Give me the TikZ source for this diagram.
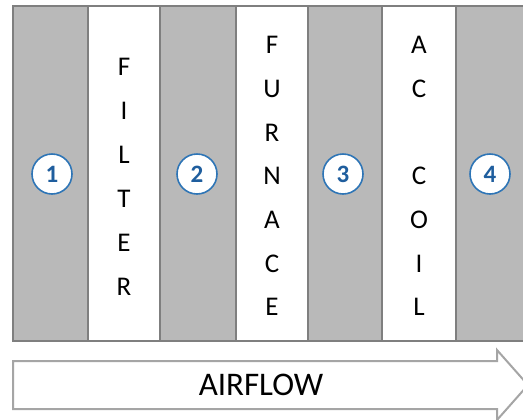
\documentclass[tikz,border=0pt]{standalone}
\usepackage{fontspec}
\setmainfont{Carlito}
\definecolor{bandgray}{HTML}{B9B9B9}
\definecolor{edgegray}{HTML}{7F7F7F}
\definecolor{arrowgray}{HTML}{A5A5A5}
\definecolor{markblue}{HTML}{2E75B6}
\definecolor{numblue}{HTML}{1F5E9E}
\tikzset{
  zone/.style={fill=bandgray, draw=edgegray, line width=1.5bp},
  unit/.style={fill=white, draw=edgegray, line width=1.5bp},
  letter/.style={font=\fontsize{27bp}{27bp}\selectfont, inner sep=0pt},
  marker/.style={circle, draw=markblue, fill=white, line width=1.6bp, minimum size=40bp, inner sep=0pt,
    text=numblue, font=\fontsize{25bp}{25bp}\selectfont\bfseries},
}
\begin{document}
\begin{tikzpicture}[x=1bp, y=-1bp]
  \useasboundingbox (0,0) rectangle (523,419);
  \clip (0,0) rectangle (523,419);

  % Draw the gray zones
  \draw[zone] (13,6) rectangle (88,341);
  \draw[zone] (160,6) rectangle (236,341);
  \draw[zone] (308,6) rectangle (382,341);
  \draw[zone] (456,6) rectangle (540,341);

  % Draw the units between the zones
  \draw[unit] (88,6) rectangle (160,341);
  \draw[unit] (236,6) rectangle (308,341);
  \draw[unit] (382,6) rectangle (456,341);

  % Letters of each unit, top to bottom
  \foreach \ch [count=\i] in {F,I,L,T,E,R}
    \node[letter] (filter\i) at (124, 67+44*\i-44) {\ch};
  \foreach \ch [count=\i] in {F,U,R,N,A,C,E}
    \node[letter] (furnace\i) at (272, 45+43.7*\i-43.7) {\ch};
  \foreach \ch [count=\i] in {A,C,{},C,O,I,L}
    \node[letter] (coil\i) at (419, 45+43.7*\i-43.7) {\ch};

  % Numbered markers in the zones
  \node[marker] (m1) at (52,174) {1};
  \node[marker] (m2) at (197,174) {2};
  \node[marker] (m3) at (343,174) {3};
  \node[marker] (m4) at (490,174) {4};

  % Draw the airflow arrow
  \draw[fill=white, draw=arrowgray, line width=2bp]
    (13,361) -- (497,361) -- (497,350) -- (528,385) -- (497,420) -- (497,409) -- (13,409) -- cycle;
  \node[font=\fontsize{33bp}{33bp}\selectfont, inner sep=0pt] (airflow) at (261,385) {AIRFLOW};
\end{tikzpicture}
\end{document}
